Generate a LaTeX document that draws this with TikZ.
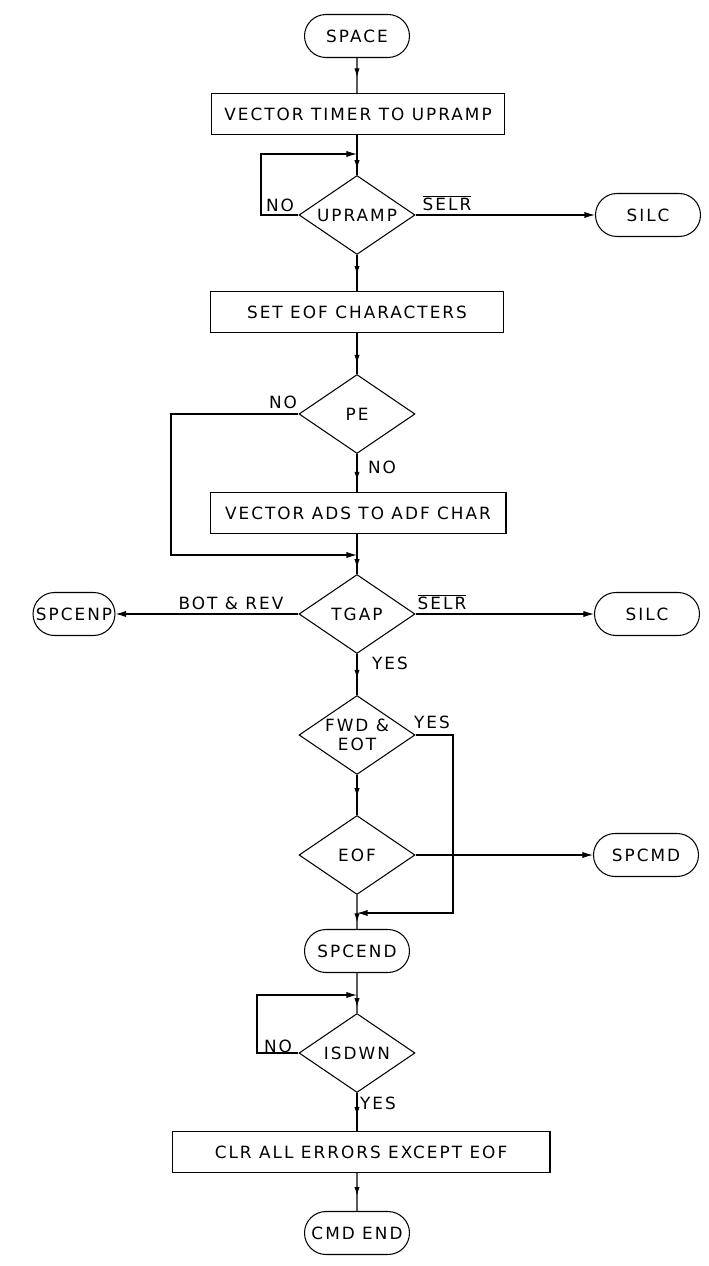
\documentclass[tikz,border=0pt]{standalone}
\usepackage{fontspec}
\newfontfamily\fc[LetterSpace=12]{DejaVu Sans}
\newcommand{\fsz}{\fc\fontsize{9.6}{11}\selectfont}
\usetikzlibrary{shapes.geometric,shapes.misc,arrows.meta,decorations.markings}
\tikzset{
  base/.style={draw, line width=0.6pt, font=\fsz, inner sep=0pt},
  term/.style={base, rounded rectangle, minimum width=2.1cm, minimum height=0.86cm},
  proc/.style={base, rectangle, minimum height=0.82cm},
  dec/.style={base, diamond, aspect=1.45, minimum width=2.32cm, minimum height=1.58cm, align=center},
  lbl/.style={font=\fsz, inner sep=0pt},
  conn/.style={line width=0.6pt},
  arr/.style={conn, -{Latex[length=6pt,width=3.5pt]}},
  midarrow/.style={conn, postaction={decorate, decoration={markings,
      mark=at position #1 with {\arrow{Latex[length=5pt,width=3pt]}}}}},
  midarrow/.default=0.55
}
\begin{document}
\begin{tikzpicture}[x=0.02cm, y=-0.02cm]
\useasboundingbox (0,0) rectangle (708,1266);
% nodes
\node[term] (space) at (357,36) {SPACE};
\node[proc, minimum width=5.86cm] (vt) at (358,114) {VECTOR TIMER TO UPRAMP};
\node[dec] (upramp) at (357,215) {UPRAMP};
\node[term] (silc1) at (648,215) {SILC};
\node[proc, minimum width=5.86cm] (seteof) at (357,312) {SET EOF CHARACTERS};
\node[dec] (pe) at (357,414) {PE};
\node[proc, minimum width=5.92cm] (vads) at (358,513) {VECTOR ADS TO ADF CHAR};
\node[dec] (tgap) at (357,614) {TGAP};
\node[term, minimum width=1.64cm] (spcenp) at (74,614) {SPCENP};
\node[term] (silc2) at (647,614) {SILC};
\node[dec] (fwd) at (357,735) {FWD \&\\EOT};
\node[dec] (eof) at (357,855) {EOF};
\node[term] (spcmd) at (646,855) {SPCMD};
\node[term] (spcend) at (357,951) {SPCEND};
\node[dec] (isdwn) at (357,1053) {ISDWN};
\node[proc, minimum width=7.56cm] (clr) at (361,1152) {CLR ALL ERRORS EXCEPT EOF};
\node[term] (cmdend) at (357,1233) {CMD END};
% helper coordinates
\coordinate (m1) at (357,154);
\coordinate (l1a) at (261,215);
\coordinate (l1b) at (261,154);
\coordinate (m2) at (357,555);
\coordinate (l2a) at (171,414);
\coordinate (l2b) at (171,555);
\coordinate (m3) at (357,913);
\coordinate (r3a) at (453,735);
\coordinate (r3b) at (453,913);
\coordinate (m4) at (357,995);
\coordinate (l4a) at (257,1053);
\coordinate (l4b) at (257,995);
% connectors
\draw[midarrow] (space) -- (space |- vt.north);
\draw[midarrow=0.85] (upramp |- vt.south) -- (upramp);
\draw[arr] (upramp.west) -- (l1a) -- (l1b) -- (m1);
\draw[arr] (upramp.east) -- (silc1.west);
\draw[midarrow] (upramp) -- (seteof);
\draw[midarrow=0.75] (seteof) -- (pe);
\draw[midarrow=0.7] (pe) -- (pe |- vads.north);
\draw[arr] (pe.west) -- (l2a) -- (l2b) -- (m2);
\draw[midarrow=0.85] (tgap |- vads.south) -- (tgap);
\draw[arr] (tgap.west) -- (spcenp.east);
\draw[arr] (tgap.east) -- (silc2.west);
\draw[midarrow=0.6] (tgap) -- (fwd);
\draw[midarrow=0.55] (fwd) -- (eof);
\draw[arr] (fwd.east) -- (r3a) -- (r3b) -- (m3);
\draw[arr] (eof.east) -- (spcmd.west);
\draw[midarrow=0.8] (eof) -- (spcend);
\draw[midarrow=0.85] (spcend) -- (isdwn);
\draw[arr] (isdwn.west) -- (l4a) -- (l4b) -- (m4);
\draw[midarrow=0.6] (isdwn) -- (isdwn |- clr.north);
\draw[midarrow=0.6] (cmdend |- clr.south) -- (cmdend);
% labels
\node[lbl] (n1) at (280,205) {NO};
\node[lbl] (s1) at (447,203) {$\overline{\hbox{\fsz SELR}}$};
\node[lbl] (n2) at (283,402) {NO};
\node[lbl] (n3) at (382,467) {NO};
\node[lbl] (br) at (231,603) {BOT \& REV};
\node[lbl] (s2) at (442,602) {$\overline{\hbox{\fsz SELR}}$};
\node[lbl] (y1) at (390,663) {YES};
\node[lbl] (y2) at (432,722) {YES};
\node[lbl] (n4) at (278,1046) {NO};
\node[lbl] (y3) at (378,1103) {YES};
\end{tikzpicture}
\end{document}
